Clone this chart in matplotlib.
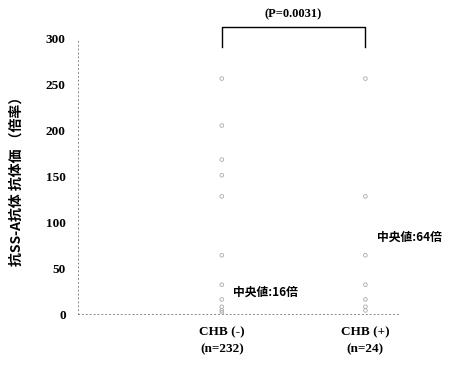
import numpy as np
import matplotlib
matplotlib.use("Agg")
import matplotlib.pyplot as plt

# titer values
groups = ["CHB (-)\n(n=232)", "CHB (+)\n(n=24)"]
titers_neg = [256, 205, 168, 151, 128, 64, 32, 16, 8, 4, 2]
titers_pos = [256, 128, 64, 32, 16, 8, 4]
medians = ["中央値:16倍", "中央値:64倍"]
median_vals = [16, 64]
p_text = "(P=0.0031)"
yticks = [0, 50, 100, 150, 200, 250, 300]
ylabel = "抗SS-A抗体 抗体価 （倍率）"

cjk = ["Noto Sans CJK JP", "DejaVu Sans"]
serif = ["Liberation Serif", "DejaVu Serif"]

fig = plt.figure(figsize=(4.57, 3.70), dpi=100)
ax = fig.add_axes([0.171, 0.151, 0.704, 0.746])

for i, vals in enumerate([titers_neg, titers_pos]):
    ax.scatter([i] * len(vals), vals, s=7, facecolors="none",
               edgecolors="#aaaaaa", linewidths=0.6, zorder=3)

# median labels
ax.text(0.08, median_vals[0] + 8, medians[0], fontsize=8.5, fontweight="bold",
        family=cjk, va="center", ha="left")
ax.text(1.08, median_vals[1] + 20, medians[1], fontsize=8.5, fontweight="bold",
        family=cjk, va="center", ha="left")

# significance bracket
ax.plot([0, 0, 1, 1], [290, 312, 312, 290], color="black", lw=1.0,
        clip_on=False)
ax.text(0.5, 319, p_text, ha="center", va="bottom", fontsize=9,
        fontweight="bold", family=serif)

ax.set_xlim(-1.0, 1.24)
ax.set_ylim(0, 300)
ax.set_xticks([0, 1])
ax.set_xticklabels(groups, fontsize=9.5, fontweight="bold", family=serif,
                   linespacing=1.5)
ax.set_yticks(yticks)
ax.set_yticklabels([str(v) for v in yticks], fontsize=9.5, fontweight="bold",
                   family=serif)
ax.tick_params(length=0)
ax.tick_params(axis="x", pad=9)
ax.tick_params(axis="y", pad=9)

for s in ["top", "right"]:
    ax.spines[s].set_visible(False)
for s in ["left", "bottom"]:
    ax.spines[s].set_linestyle((0, (1, 3)))
    ax.spines[s].set_color("#888888")
    ax.spines[s].set_linewidth(0.7)

fig.text(0.037, 0.52, ylabel, rotation=90, ha="center", va="center",
         fontsize=10, fontweight="bold", family=cjk)

fig.savefig("out.png", dpi=100)
